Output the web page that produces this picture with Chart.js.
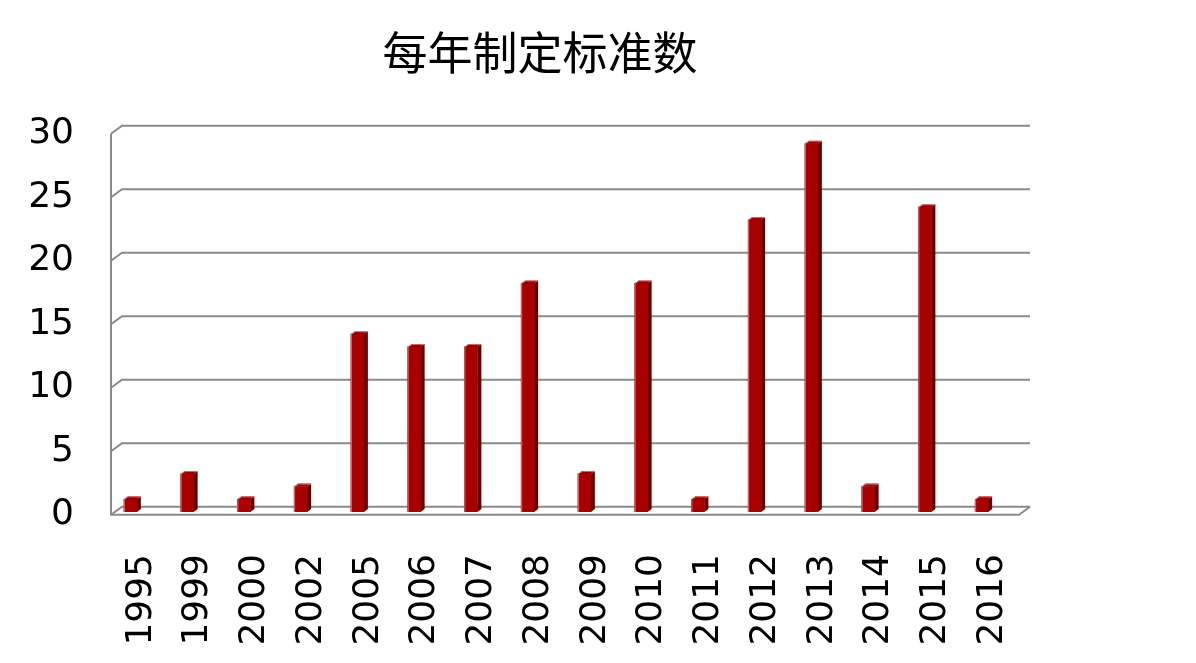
<!DOCTYPE html>
<html>
<head>
<meta charset="utf-8">
<script src="https://cdn.jsdelivr.net/npm/chart.js@4/dist/chart.umd.min.js"></script>
<style>
html,body{margin:0;padding:0;background:#fff;}
#c{display:block;}
</style>
</head>
<body>
<canvas id="c" width="1196" height="663"></canvas>
<script>
const titleText = '每年制定标准数';
const years = ['1995','1999','2000','2002','2005','2006','2007','2008','2009','2010','2011','2012','2013','2014','2015','2016'];
const counts = [1,3,1,2,14,13,13,18,3,18,1,23,29,2,24,1];
const yTicks = [0,5,10,15,20,25,30];

const FRONT_DX = 9, FRONT_DY = 2.8;   // front wall relative to bar plane
const BACK_DX = 11, BACK_DY = -8;     // back wall relative to front wall
const SIDE_DX = 4, SIDE_DY = -3;      // bar depth

const walls = {
  id: 'walls',
  beforeDatasetsDraw(chart) {
    const ctx = chart.ctx, ca = chart.chartArea, ys = chart.scales.y;
    const L = ca.left + FRONT_DX, R = ca.right + FRONT_DX;
    const fy = v => ys.getPixelForValue(v) + FRONT_DY;
    ctx.save();
    ctx.strokeStyle = '#8a8a8a';
    ctx.lineWidth = 2;
    ctx.beginPath();
    yTicks.forEach(v => {
      const y = fy(v);
      ctx.moveTo(L, y); ctx.lineTo(L + BACK_DX, y + BACK_DY);
      ctx.lineTo(R + BACK_DX, y + BACK_DY);
    });
    ctx.moveTo(L, fy(yTicks[yTicks.length-1])); ctx.lineTo(L, fy(0));
    ctx.lineTo(R, fy(0)); ctx.lineTo(R + BACK_DX, fy(0) + BACK_DY);
    ctx.stroke();
    ctx.restore();
  },
  afterDatasetsDraw(chart) {
    const ctx = chart.ctx;
    const meta = chart.getDatasetMeta(0);
    ctx.save();
    meta.data.forEach(bar => {
      const w = bar.width, l = bar.x - w/2, r = bar.x + w/2, t = bar.y, b = bar.base;
      ctx.fillStyle = '#680000';
      ctx.beginPath();
      ctx.moveTo(r, t); ctx.lineTo(r + SIDE_DX, t + SIDE_DY);
      ctx.lineTo(r + SIDE_DX, b + SIDE_DY); ctx.lineTo(r, b); ctx.closePath();
      ctx.fill();
      ctx.fillStyle = '#9a0000';
      ctx.beginPath();
      ctx.moveTo(l, t); ctx.lineTo(l + SIDE_DX, t + SIDE_DY);
      ctx.lineTo(r + SIDE_DX, t + SIDE_DY); ctx.lineTo(r, t); ctx.closePath();
      ctx.fill();
      ctx.strokeStyle = 'rgba(230,140,140,0.8)';
      ctx.lineWidth = 1;
      ctx.beginPath();
      ctx.moveTo(l + 0.5, b); ctx.lineTo(l + 0.5, t); ctx.lineTo(l + SIDE_DX + 0.5, t + SIDE_DY + 0.5);
      ctx.lineTo(r + SIDE_DX, t + SIDE_DY + 0.5);
      ctx.stroke();
    });
    ctx.restore();
  },
  afterDraw(chart) {
    const ctx = chart.ctx;
    ctx.save();
    ctx.fillStyle = '#000';
    ctx.font = '45px "Noto Sans CJK SC", sans-serif';
    ctx.textAlign = 'center';
    ctx.textBaseline = 'middle';
    ctx.fillText(titleText, 540, 53);
    ctx.restore();
  }
};

new Chart(document.getElementById('c'), {
  type: 'bar',
  data: {
    labels: years,
    datasets: [{
      data: counts,
      backgroundColor: '#a80000',
      borderWidth: 0,
      barThickness: 13
    }]
  },
  options: {
    responsive: false,
    devicePixelRatio: 1,
    animation: false,
    layout: { padding: { top: 131, right: 186, left: 0, bottom: 0 } },
    plugins: { legend: { display: false }, tooltip: { enabled: false }, title: { display: false } },
    scales: {
      x: {
        grid: { display: false, drawTicks: false },
        border: { display: false },
        ticks: {
          minRotation: 90, maxRotation: 90,
          autoSkip: false,
          labelOffset: 11,
          padding: 42,
          color: '#000',
          font: { family: '"DejaVu Sans", Verdana, sans-serif', size: 36 }
        },
        afterFit(s) { s.height = 151; }
      },
      y: {
        min: 0, max: 30,
        grid: { display: false, drawTicks: false },
        border: { display: false },
        ticks: {
          stepSize: 5,
          padding: 28,
          labelOffset: 3,
          color: '#000',
          font: { family: '"DejaVu Sans", Verdana, sans-serif', size: 36 }
        },
        afterFit(s) { s.width = 102; }
      }
    }
  },
  plugins: [walls]
});
</script>
</body>
</html>
